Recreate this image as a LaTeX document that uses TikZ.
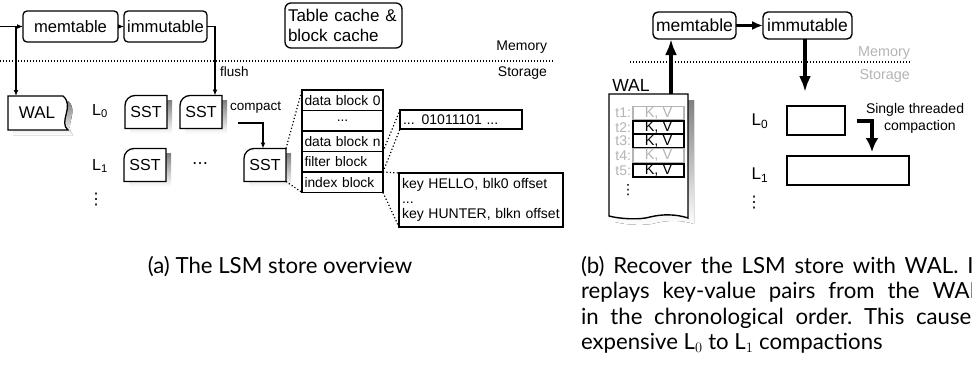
\documentclass[tikz,border=0pt]{standalone}
\usepackage{fontspec}
\setmainfont{Liberation Sans}
\newfontfamily\capfont{Lato}
\newfontfamily\symfont{DejaVu Sans}
\usetikzlibrary{arrows.meta,backgrounds}

\definecolor{shade}{HTML}{D2D2D2}
\definecolor{faint}{HTML}{B4B4B4}

% frame of an SST file: rounded top-left corner and a drop shadow
\newcommand\sstframe[1]{%
  \fill[shade] ([shift={(5pt,-5pt)}]#1.south west) rectangle ([shift={(5pt,-5pt)}]#1.north east);
  \filldraw[fill=white,line width=1.3pt] (#1.south west) [rounded corners=10pt] -- (#1.north west)
    [sharp corners] -- (#1.north east) -- (#1.south east) -- cycle;
}
% one justified line of the caption column
\newcommand\capline[1]{\hbox to 400pt{#1}}

\tikzset{
  every node/.style={inner sep=0pt, outer sep=0pt},
  fpx/.style={font=\fontsize{#1}{#1}\selectfont},
  rbox/.style={draw, line width=1.3pt, rounded corners=4pt, fill=white},
  sstnode/.style={minimum width=42pt, minimum height=33pt, fpx=16},
  cell/.style={draw, line width=1.3pt, minimum width=81pt, minimum height=20.5pt,
    text width=76pt, inner xsep=2.5pt, align=left, fpx=13.8},
  thinarrow/.style={line width=1.2pt, -{Latex[length=6pt,width=5pt]}},
  dotline/.style={line width=1.2pt, dash pattern=on 1.2pt off 1.8pt},
  zoomline/.style={line width=1.2pt, dash pattern=on 1.2pt off 2.2pt},
  lvl/.style={fpx=16},
  entry/.style={draw, line width=1.6pt, minimum width=51pt, minimum height=13.5pt, fpx=14.5},
  oldentry/.style={entry, draw=faint, text=faint, line width=1.2pt},
  tlabel/.style={anchor=east, fpx=14, text=faint},
  bigarrow/.style={line width=3.2pt, -{Latex[length=16pt,width=12pt]}},
  caption/.style={font=\capfont\fontsize{22.2}{25.5}\selectfont\frenchspacing},
}

\begin{document}
\begin{tikzpicture}[x=1pt,y=-1pt]
\useasboundingbox (0,0) rectangle (972,370);
\clip (0,0) rectangle (972,370);

% ---------------- (a) overview ----------------
\node[rbox, minimum width=95pt, minimum height=31pt, fpx=16.6] (mem) at (70.5,26.5) {memtable};
\node[rbox, minimum width=83pt, minimum height=31pt, fpx=16.6] (imm) at (165.5,26.5) {immutable};
\node[rbox, rounded corners=6pt, minimum width=117pt, minimum height=45pt, text width=111pt,
      inner xsep=3pt, align=left, font=\fontsize{17}{20}\selectfont] (cache) at (343.5,25.5)
      {Table cache \&\\block cache};

\draw[dotline] (0,61) -- (553,61);
\node[anchor=east, fpx=14] (memlbl) at (547,47) {Memory};
\node[anchor=east, fpx=14] (storlbl) at (547,73) {Storage};

% write-ahead log and SST files
\node[minimum width=62pt, minimum height=34pt, fpx=17] (wal) at (37,113) {WAL};
\node[lvl] (l0) at (100,111) {L\textsubscript{0}};
\node[lvl] (l1) at (100,166) {L\textsubscript{1}};
\node[font=\symfont\fontsize{16}{16}\selectfont] (vd) at (96,200) {⋮};

\node[sstnode] (s1) at (146,112) {SST};
\node[sstnode] (s2) at (201,112) {SST};
\node[sstnode] (s4) at (145,165) {SST};
\node[sstnode] (s3) at (265,165) {SST};
\node[font=\symfont\fontsize{16}{16}\selectfont] (hd) at (200,166) {⋯};

\begin{scope}[on background layer]
  \fill[shade] (13,101) -- (68,101) .. controls (80,111) and (63,127) .. (73,135) -- (13,135) -- cycle;
  \filldraw[fill=white,line width=1.3pt] (8,96) -- (63,96) .. controls (75,106) and (58,122) .. (68,130)
    -- (8,130) -- cycle;
  \sstframe{s1}
  \sstframe{s2}
  \sstframe{s3}
  \sstframe{s4}
\end{scope}

\coordinate (inp) at (0,26.5);
\coordinate (split) at (16,26.5);
\draw[thinarrow] (inp) -- (mem.west);
\draw[thinarrow] (split) -- (split |- wal.north);
\draw[thinarrow] (mem.east) -- (imm.west);
\draw[thinarrow] (imm.east) -| ([xshift=-7pt]s2.north east);
\node[anchor=west, fpx=13.5] (flushlbl) at (220,72) {flush};

\coordinate (cmpstart) at (238,123);
\draw[thinarrow] (cmpstart) -| ([xshift=-2pt]s3.north);
\node[anchor=west, fpx=13.5] (cmplbl) at (230,108) {compact};

% blocks inside an SST
\node[cell] (db0) at (342.5,100.25) {data block 0};
\node[cell, align=center] (dbd) at (342.5,120.75) {...};
\node[cell] (dbn) at (342.5,141.25) {data block n};
\node[cell] (filt) at (342.5,161.75) {filter block};
\node[cell] (idx) at (342.5,182.25) {index block};

\node[draw, line width=1.3pt, minimum width=122pt, minimum height=19pt, text width=116pt,
      inner xsep=3pt, align=left, fpx=14] (bits) at (461,119.5) {... 01011101 ...};
\node[draw, line width=1.3pt, minimum width=164pt, minimum height=54pt, text width=158pt,
      inner xsep=3pt, align=left, font=\fontsize{14}{15}\selectfont] (keys) at (481,200)
      {key HELLO, blk0 offset\\...\\key HUNTER, blkn offset};

\draw[zoomline] (s3.north east) -- (db0.north west);
\draw[zoomline] (s3.south east) -- (idx.south west);
\draw[zoomline] (filt.north east) -- (bits.north west);
\draw[zoomline] (filt.south east) -- (bits.south west);
\draw[zoomline] (idx.north east) -- (keys.north west);
\draw[zoomline] (idx.south east) -- (keys.south west);

\node[caption, anchor=base] (capa) at (280,273) {(a) The LSM store overview};

% ---------------- (b) recovery ----------------
\node[rbox, rounded corners=5pt, line width=1.4pt, minimum width=83pt, minimum height=27pt, fpx=17.5] (memb) at (694.5,25.5) {memtable};
\node[rbox, rounded corners=5pt, line width=1.4pt, minimum width=89pt, minimum height=27pt, fpx=17.5] (immb) at (807.5,25.5) {immutable};
\draw[line width=2.6pt, -{Latex[length=11pt,width=9pt]}] (memb.east) -- (immb.west);

\node[anchor=east, fpx=14.4, text=faint] (memlblb) at (910,53) {Memory};
\node[anchor=east, fpx=14.4, text=faint] (storlblb) at (910,76) {Storage};
\draw[dotline] (630,62) -- (911,62);

\node[fpx=17.5] (walname) at (631,85) {WAL};
\node[minimum width=79pt, minimum height=124pt] (walb) at (648.5,156) {};
\begin{scope}[on background layer]
  \fill[shade] (615,100) -- (694,100) -- (694,224) .. controls (682,220) and (668,220) .. (656,223)
    .. controls (646,226) and (626,225) .. (615,222) -- cycle;
  \filldraw[fill=white,line width=1.4pt] (609,94) -- (688,94) -- (688,218) .. controls (676,214) and (662,214) .. (650,217)
    .. controls (640,220) and (620,219) .. (609,216) -- cycle;
\end{scope}

\node[oldentry] (e1) at (658.5,113) {K, V};
\node[entry] (e2) at (658.5,127.5) {K, V};
\node[entry] (e3) at (658.5,141) {K, V};
\node[oldentry] (e4) at (658.5,155.5) {K, V};
\node[entry] (e5) at (658.5,170.5) {K, V};
\node[tlabel] (t1) at (631,113) {t1:};
\node[tlabel] (t2) at (631,127.5) {t2:};
\node[tlabel] (t3) at (631,141) {t3:};
\node[tlabel] (t4) at (631,155.5) {t4:};
\node[tlabel] (t5) at (631,170.5) {t5:};
\node[font=\symfont\fontsize{14}{14}\selectfont] (wdots) at (628,190) {⋮};

\draw[bigarrow] (walb.north -| 671,0) -- (memb.south -| 671,0);
\draw[bigarrow] (immb.south -| 805,0) -- (805,92);

\node[fpx=17] (l0b) at (760,121) {L\textsubscript{0}};
\node[fpx=17] (l1b) at (760,175) {L\textsubscript{1}};
\node[font=\symfont\fontsize{16}{16}\selectfont] (vdb) at (754,203) {⋮};
\node[draw, line width=1.5pt, minimum width=58pt, minimum height=29pt] (l0box) at (816,120.5) {};
\node[draw, line width=1.5pt, minimum width=122pt, minimum height=29pt] (l1box) at (848,170.5) {};

\coordinate (cstart) at (857,121);
\draw[line width=4.5pt, -{Latex[length=14pt,width=13pt]}] (cstart) -| ([shift={(24pt,4pt)}]l1box.north);
\node[anchor=west, fpx=14] (sglbl) at (866,110) {Single threaded};
\node[anchor=west, fpx=14] (cplbl) at (884,127) {compaction};

% justified caption column; the last line's baseline is the node's base
\node[caption, anchor=base west, align=left] (capb) at (581,349.5)
  {\capline{(b) Recover the LSM store with WAL. It}\\
   \capline{replays key-value pairs from the WAL}\\
   \capline{in the chronological order. This causes}\\
   expensive L$_0$ to L$_1$ compactions};
\end{tikzpicture}
\end{document}
